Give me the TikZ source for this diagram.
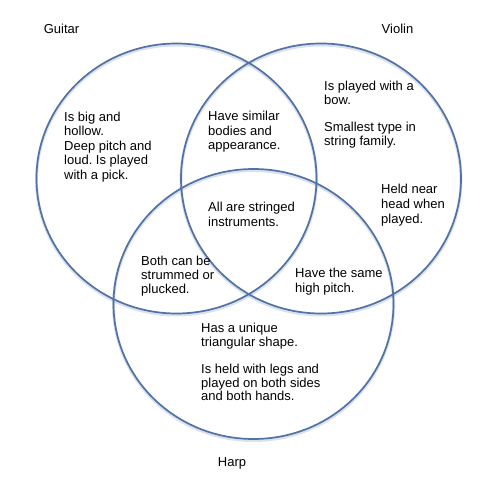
\documentclass[tikz,border=0pt]{standalone}
\usepackage{fontspec}
\setmainfont{Liberation Sans}
\usetikzlibrary{shapes.geometric}
\definecolor{ringblue}{RGB}{80,114,165}
\definecolor{ringshadow}{RGB}{150,170,200}
\frenchspacing
\tikzset{
  ring/.style={ellipse, draw=ringblue, line width=1.7pt, minimum width=280pt, minimum height=270pt, inner sep=0pt},
  ringshade/.style={ellipse, draw=ringshadow, line width=3pt, opacity=0.35, minimum width=280pt, minimum height=270pt, inner sep=0pt},
  txt/.style={anchor=north west, align=left, inner sep=0pt, font=\fontsize{13}{14.5}\selectfont, text=black},
  lbl/.style={anchor=center, inner sep=0pt, font=\fontsize{13}{15}\selectfont, text=black}
}
\begin{document}
\begin{tikzpicture}[x=1pt,y=-1pt]
\useasboundingbox (0,0) rectangle (504,494);
\fill[white] (0,0) rectangle (504,494);
% soft shadows
\node[ringshade] (gs) at (176.5,180) {};
\node[ringshade] (vs) at (321,180) {};
\node[ringshade] (hs) at (253.5,305.5) {};
% circles
\node[ring] (guitar) at (176.5,178.5) {};
\node[ring] (violin) at (321,178.5) {};
\node[ring] (harp) at (253.5,304) {};
% labels
\node[lbl] (lg) at (61.5,29) {Guitar};
\node[lbl] (lv) at (397.5,29) {Violin};
\node[lbl] (lh) at (232,463) {Harp};
% texts
\node[txt] (tg) at (64,111.5) {Is big and\\hollow.\\Deep pitch and\\loud. Is played\\with a pick.};
\node[txt] (tgv) at (208,111) {Have similar\\bodies and\\appearance.};
\node[txt, font=\fontsize{13}{14}\selectfont] (tv) at (324,81) {Is played with a\\bow.\\[13pt]Smallest type in\\string family.};
\node[txt, font=\fontsize{13}{15}\selectfont] (tv2) at (381,184) {Held near\\head when\\played.};
\node[txt] (tc) at (208,202) {All are stringed\\instruments.};
\node[txt, font=\fontsize{13}{14}\selectfont] (tgh) at (141,256) {Both can be\\strummed or\\plucked.};
\node[txt] (tvh) at (295,268) {Have the same\\high pitch.};
\node[txt, font=\fontsize{13}{13.4}\selectfont] (th) at (201,323) {Has a unique\\triangular shape.\\[14.5pt]Is held with legs and\\played on both sides\\and both hands.};
\end{tikzpicture}
\end{document}
